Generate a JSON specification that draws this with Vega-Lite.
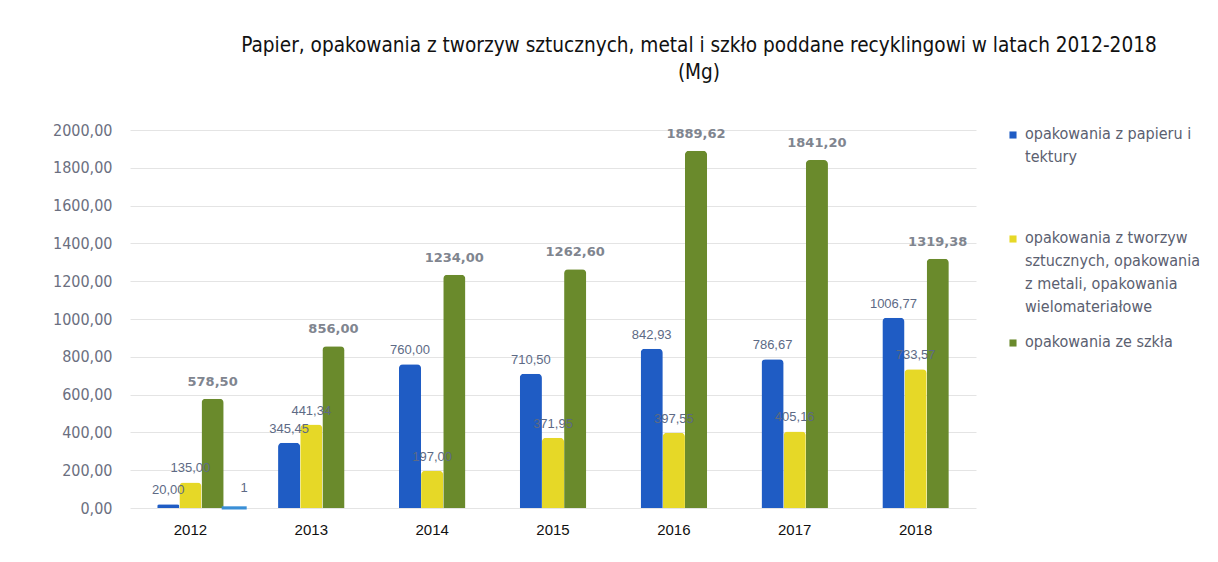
{
  "$schema": "https://vega.github.io/schema/vega-lite/v6.json",
  "width": 846,
  "height": 378,
  "autosize": {"type": "none"},
  "padding": {"left": 130, "top": 130, "right": 242, "bottom": 54},
  "background": "white",
  "title": {
    "text": ["Papier, opakowania z tworzyw sztucznych, metal i szkło poddane recyklingowi w latach 2012-2018", "(Mg)"],
    "anchor": "middle",
    "dx": 146,
    "font": "DejaVu Sans Condensed, Liberation Sans Narrow, sans-serif",
    "fontSize": 20.6,
    "fontWeight": "normal",
    "color": "#111111",
    "offset": 38,
    "lineHeight": 27
  },
  "config": {
    "view": {"stroke": null},
    "axis": {"labelFont": "DejaVu Sans Condensed, Liberation Sans Narrow, sans-serif"},
    "style": {"guide-label": {"lineHeight": 23}}
  },
  "resolve": {"scale": {"xOffset": "independent"}},
  "encoding": {
    "x": {
      "field": "year", "type": "nominal", "title": null,
      "scale": {"paddingInner": 0.45, "paddingOuter": 0.225},
      "axis": {"labelAngle": 0, "labelFontSize": 15, "labelColor": "#111111", "labelFont": "Liberation Sans, Arial, sans-serif", "ticks": false, "domain": false, "labelPadding": 14}
    },
    "y": {
      "field": "value", "type": "quantitative", "title": null,
      "scale": {"domain": [0, 2000]},
      "axis": {
        "values": [0, 200, 400, 600, 800, 1000, 1200, 1400, 1600, 1800, 2000],
        "labelExpr": "replace(format(datum.value, '.2f'), '.', ',')",
        "labelOverlap": false,
        "labelFontSize": 16, "labelColor": "#6b6f80", "labelPadding": 18,
        "ticks": false, "domain": false, "gridColor": "#e4e4e4"
      }
    }
  },
  "layer": [
    {
      "data": {
        "values": [
          {"year": "2012", "series": "opakowania z papieru i tektury", "value": 20.00},
          {"year": "2013", "series": "opakowania z papieru i tektury", "value": 345.45},
          {"year": "2014", "series": "opakowania z papieru i tektury", "value": 760.00},
          {"year": "2015", "series": "opakowania z papieru i tektury", "value": 710.50},
          {"year": "2016", "series": "opakowania z papieru i tektury", "value": 842.93},
          {"year": "2017", "series": "opakowania z papieru i tektury", "value": 786.67},
          {"year": "2018", "series": "opakowania z papieru i tektury", "value": 1006.77},
          {"year": "2012", "series": "opakowania z tworzyw sztucznych, opakowania z metali, opakowania wielomateriałowe", "value": 135.00},
          {"year": "2013", "series": "opakowania z tworzyw sztucznych, opakowania z metali, opakowania wielomateriałowe", "value": 441.34},
          {"year": "2014", "series": "opakowania z tworzyw sztucznych, opakowania z metali, opakowania wielomateriałowe", "value": 197.00},
          {"year": "2015", "series": "opakowania z tworzyw sztucznych, opakowania z metali, opakowania wielomateriałowe", "value": 371.95},
          {"year": "2016", "series": "opakowania z tworzyw sztucznych, opakowania z metali, opakowania wielomateriałowe", "value": 397.55},
          {"year": "2017", "series": "opakowania z tworzyw sztucznych, opakowania z metali, opakowania wielomateriałowe", "value": 405.16},
          {"year": "2018", "series": "opakowania z tworzyw sztucznych, opakowania z metali, opakowania wielomateriałowe", "value": 733.57},
          {"year": "2012", "series": "opakowania ze szkła", "value": 578.50},
          {"year": "2013", "series": "opakowania ze szkła", "value": 856.00},
          {"year": "2014", "series": "opakowania ze szkła", "value": 1234.00},
          {"year": "2015", "series": "opakowania ze szkła", "value": 1262.60},
          {"year": "2016", "series": "opakowania ze szkła", "value": 1889.62},
          {"year": "2017", "series": "opakowania ze szkła", "value": 1841.20},
          {"year": "2018", "series": "opakowania ze szkła", "value": 1319.38}
        ]
      },
      "transform": [
        {"calculate": "replace(format(datum.value, '.2f'), '.', ',')", "as": "label"}
      ],
      "encoding": {
        "xOffset": {
          "field": "series", "type": "nominal",
          "scale": {"domain": ["opakowania z papieru i tektury", "opakowania z tworzyw sztucznych, opakowania z metali, opakowania wielomateriałowe", "opakowania ze szkła"]}
        }
      },
      "layer": [
        {
          "mark": {"type": "bar", "cornerRadiusTopLeft": 4, "cornerRadiusTopRight": 4},
          "encoding": {
            "color": {
              "field": "series", "type": "nominal",
              "scale": {
                "domain": ["opakowania z papieru i tektury", "opakowania z tworzyw sztucznych, opakowania z metali, opakowania wielomateriałowe", "opakowania ze szkła"],
                "range": ["#1f5cc4", "#e6d827", "#6a8a2c"]
              },
              "legend": {
                "title": null,
                "orient": "none",
                "legendX": 875,
                "legendY": -3,
                "symbolType": "square",
                "symbolSize": 50,
                "labelFont": "DejaVu Sans Condensed, Liberation Sans Narrow, sans-serif",
                "labelFontSize": 16,
                "labelColor": "#5b6070",
                "labelLimit": 300,
                "labelBaseline": "top",
                "labelOffset": 4,
                "rowPadding": 19,
                "encode": {"labels": {"update": {"dy": {"value": -9}}}},
                "labelExpr": "datum.label == 'opakowania z papieru i tektury' ? ['opakowania z papieru i', 'tektury', ' ', ' '] : datum.label == 'opakowania ze szkła' ? datum.label : ['opakowania z tworzyw', 'sztucznych, opakowania', 'z metali, opakowania', 'wielomateriałowe']"
              }
            }
          }
        },
        {
          "transform": [{"filter": "datum.series != 'opakowania ze szkła'"}],
          "mark": {"type": "text", "dy": -14, "fontSize": 13, "color": "#5d6a85", "font": "Liberation Sans, Arial, sans-serif"},
          "encoding": {"text": {"field": "label"}}
        },
        {
          "transform": [{"filter": "datum.series == 'opakowania ze szkła'"}],
          "mark": {"type": "text", "dy": -17, "fontSize": 13, "fontWeight": "bold", "color": "#80858f", "font": "DejaVu Sans, sans-serif"},
          "encoding": {"text": {"field": "label"}}
        }
      ]
    },
    {
      "data": {"values": [{"year": "2012", "slot": "d", "value": 1, "label": "1"}]},
      "encoding": {
        "xOffset": {"field": "slot", "type": "nominal", "scale": {"domain": ["a", "b", "c", "d"], "range": [0, 88]}}
      },
      "layer": [
        {"mark": {"type": "bar", "color": "#3a8fd6", "stroke": "#3a8fd6", "strokeWidth": 3}},
        {
          "mark": {"type": "text", "dy": -20, "dx": 10, "fontSize": 13, "color": "#5d6a85", "font": "Liberation Sans, Arial, sans-serif"},
          "encoding": {"text": {"field": "label"}}
        }
      ]
    }
  ]
}
